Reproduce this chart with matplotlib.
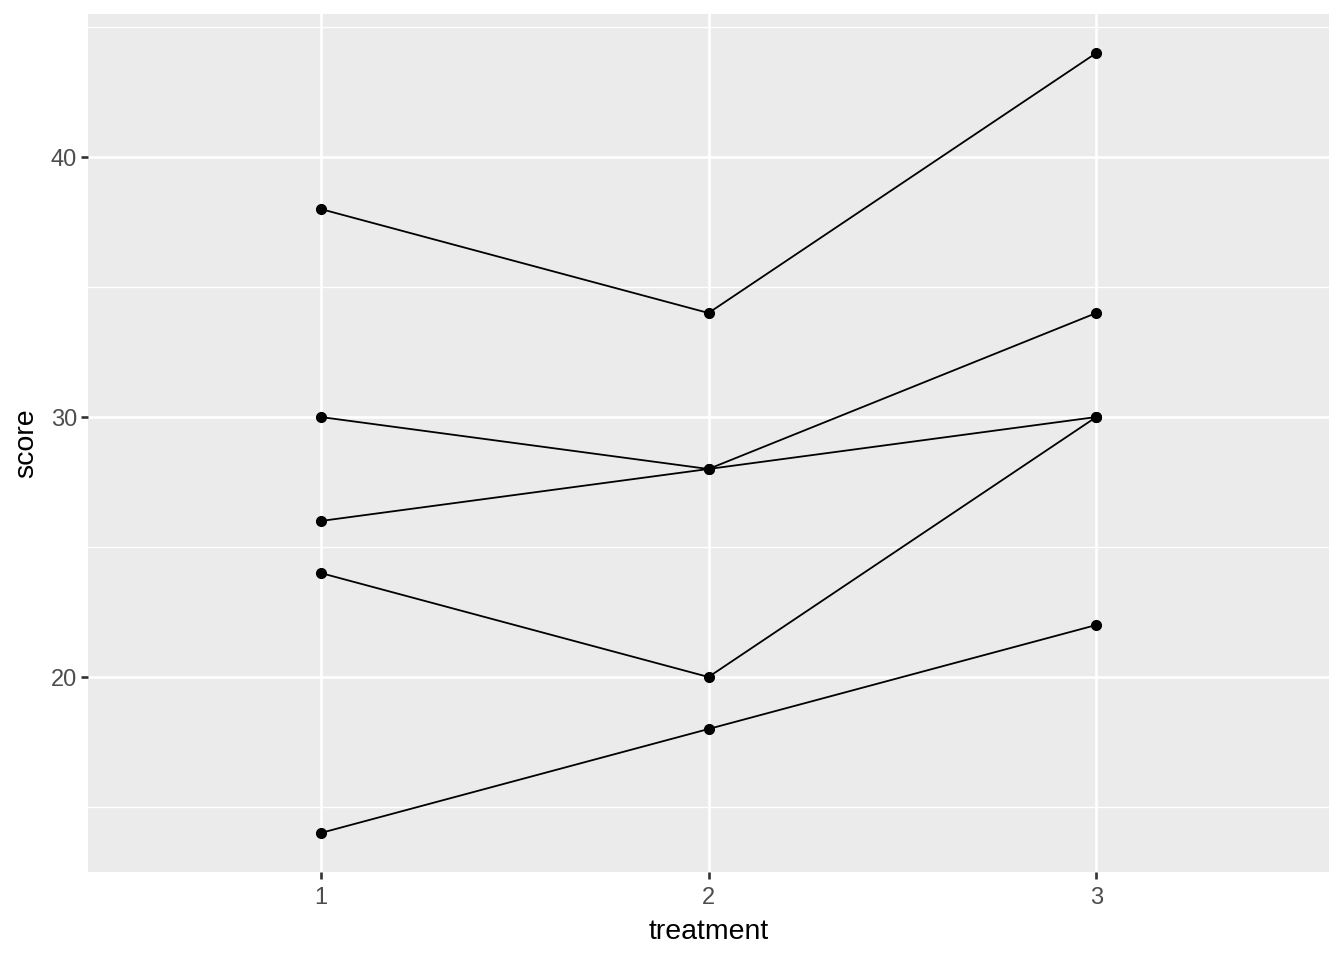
import matplotlib
matplotlib.use("Agg")
import matplotlib.pyplot as plt

# repeated-measures scores, one list per subject (treatments 1..3)
treatments = [1, 2, 3]
subject_scores = [
    [38, 34, 44],
    [30, 28, 34],
    [26, 28, 30],
    [24, 20, 30],
    [14, 18, 22],
]
y_ticks = [20, 30, 40]
y_minor = [15, 25, 35, 45]

plt.rcParams["font.family"] = ["Liberation Sans", "DejaVu Sans"]

fig = plt.figure(figsize=(13.44, 9.6), dpi=100)
ax = fig.add_axes([88 / 1344, 1 - 872 / 960, (1329 - 88) / 1344, (872 - 14) / 960])
ax.set_facecolor("#EBEBEB")

for scores in subject_scores:
    ax.plot(treatments, scores, color="black", lw=1.3, marker="o", ms=7,
            solid_capstyle="butt", zorder=3)

ax.set_xlim(0.4, 3.6)
ax.set_ylim(12.5, 45.5)
ax.set_xticks(treatments)
ax.set_xticklabels([str(t) for t in treatments])
ax.set_yticks(y_ticks)
ax.set_yticks(y_minor, minor=True)

ax.grid(which="major", color="white", lw=1.9)
ax.grid(which="minor", color="white", lw=0.95)
ax.set_axisbelow(True)
for s in ax.spines.values():
    s.set_visible(False)

ax.tick_params(which="major", length=5, width=1.9, color="#333333",
               labelsize=17, labelcolor="#4D4D4D", pad=3)
ax.tick_params(axis="x", which="major", pad=6)
ax.tick_params(which="minor", length=0)

ax.set_xlabel("treatment", fontsize=20.5, color="black", labelpad=7)
ax.set_ylabel("score", fontsize=20.5, color="black", labelpad=8)

fig.savefig("out.png", dpi=100, facecolor="white")
